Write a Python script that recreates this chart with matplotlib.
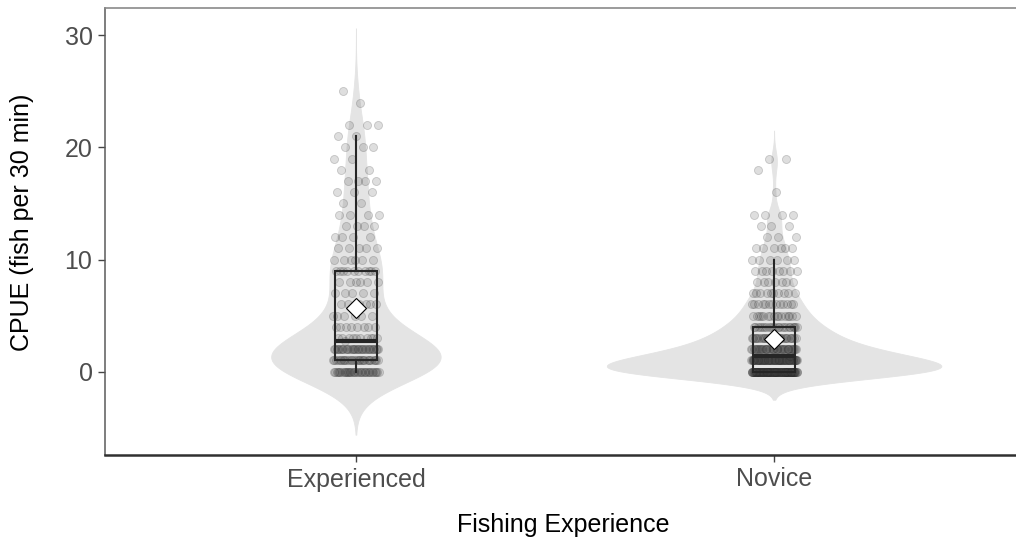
import numpy as np
import matplotlib
matplotlib.use("Agg")
import matplotlib.pyplot as plt

plt.rcParams["font.family"] = ["Liberation Sans", "DejaVu Sans"]

# ---- data -------------------------------------------------------------
groups = ["Experienced", "Novice"]

# CPUE values (fish per 30 min) and the number of sessions at each value
exp_values = [0, 1, 2, 2.7, 3, 4, 5, 6, 7, 8, 9, 10, 11, 12, 13, 14, 15, 16,
              17, 18, 19, 20, 21, 22, 24, 25]
exp_counts = [35, 29, 33, 1, 10, 8, 6, 6, 5, 6, 10, 6, 5, 4, 4, 4, 2, 3,
              4, 2, 2, 3, 2, 3, 1, 1]

nov_values = [0, 1, 1.4, 2, 3, 4, 5, 6, 7, 8, 9, 10, 11, 12, 13, 14, 16, 18, 19]
nov_counts = [103, 71, 1, 42, 30, 22, 16, 13, 10, 7, 8, 6, 6, 3, 3, 4, 1, 1, 2]

y_ticks = [0, 10, 20, 30]
x_title = "Fishing Experience"
y_title = "CPUE (fish per 30 min)"

samples = [np.repeat(np.array(exp_values, float), exp_counts),
           np.repeat(np.array(nov_values, float), nov_counts)]
positions = np.arange(1, len(groups) + 1)


# ---- helpers -----------------------------------------------------------
def bw_nrd0(x):
    sd = np.std(x, ddof=1)
    q75, q25 = np.percentile(x, [75, 25])
    return 0.9 * min(sd, (q75 - q25) / 1.34) * len(x) ** -0.2


def kde(x, cut=3, n=512):
    bw = bw_nrd0(x)
    grid = np.linspace(x.min() - cut * bw, x.max() + cut * bw, n)
    z = (grid[:, None] - x[None, :]) / bw
    dens = np.exp(-0.5 * z ** 2).sum(axis=1) / (len(x) * bw * np.sqrt(2 * np.pi))
    return grid, dens


def spread(n, half_width):
    # evenly scattered horizontal offsets for overlapping points
    k = np.arange(n)
    return ((k * 0.6180339887 + 0.31) % 1.0 * 2 - 1) * half_width


# ---- figure ------------------------------------------------------------
W, H = 1016, 542
fig = plt.figure(figsize=(W / 100, H / 100), dpi=100)
ax = fig.add_axes([105 / W, 1 - 455 / H, (1025 - 105) / W, (455 - 8) / H])

# violins (equal area, widest one 0.8 wide)
dens = [kde(s) for s in samples]
dmax = max(d.max() for _, d in dens)
lo_all, hi_all = np.inf, -np.inf
for pos, (grid, d) in zip(positions, dens):
    half = d / dmax * 0.4
    ax.fill_betweenx(grid, pos - half, pos + half, color="#e4e4e4",
                     edgecolor="#e4e4e4", linewidth=0.6, zorder=1)
    lo_all = min(lo_all, grid.min())
    hi_all = max(hi_all, grid.max())

# jittered points
for pos, s in zip(positions, samples):
    xs = pos + spread(len(s), 0.055)
    ax.scatter(xs, s, s=34, facecolors=(0.25, 0.25, 0.25, 0.17),
               edgecolors=(0.1, 0.1, 0.1, 0.2), linewidths=0.6, zorder=2)

# box plots without outliers
ax.boxplot(samples, positions=positions, widths=0.1, whis=1.5,
           showfliers=False, showcaps=False, patch_artist=True,
           boxprops=dict(facecolor="none", edgecolor="#262626", linewidth=1.5),
           whiskerprops=dict(color="#262626", linewidth=1.5),
           medianprops=dict(color="#262626", linewidth=3.0),
           zorder=3)

# group means
means = [s.mean() for s in samples]
ax.plot(positions, means, linestyle="none", marker="D", markersize=9.8,
        markerfacecolor="white", markeredgecolor="black",
        markeredgewidth=0.8, zorder=5)

# ---- axes styling ------------------------------------------------------
rng = hi_all - lo_all
ax.set_ylim(lo_all - 0.05 * rng, hi_all + 0.05 * rng)
ax.set_xlim(0.4, 2.6)
ax.set_xticks(positions)
ax.set_xticklabels(groups)
ax.set_yticks(y_ticks)

ax.spines["right"].set_visible(False)
ax.spines["top"].set_color("#8a8a8a")
ax.spines["top"].set_linewidth(1.2)
ax.spines["left"].set_color("#5a5a5a")
ax.spines["left"].set_linewidth(1.1)
ax.spines["bottom"].set_color("#303030")
ax.spines["bottom"].set_linewidth(1.8)

ax.tick_params(axis="both", length=5, width=1, color="#444444",
               labelcolor="#4d4d4d", labelsize=18, pad=4)

fig.text(22 / W, 1 - 222 / H, y_title, rotation=90, ha="center", va="center",
         fontsize=18, color="black")
fig.text(563 / W, 1 - 525 / H, x_title, ha="center", va="center",
         fontsize=18, color="black")

fig.savefig("out.png", dpi=100)
